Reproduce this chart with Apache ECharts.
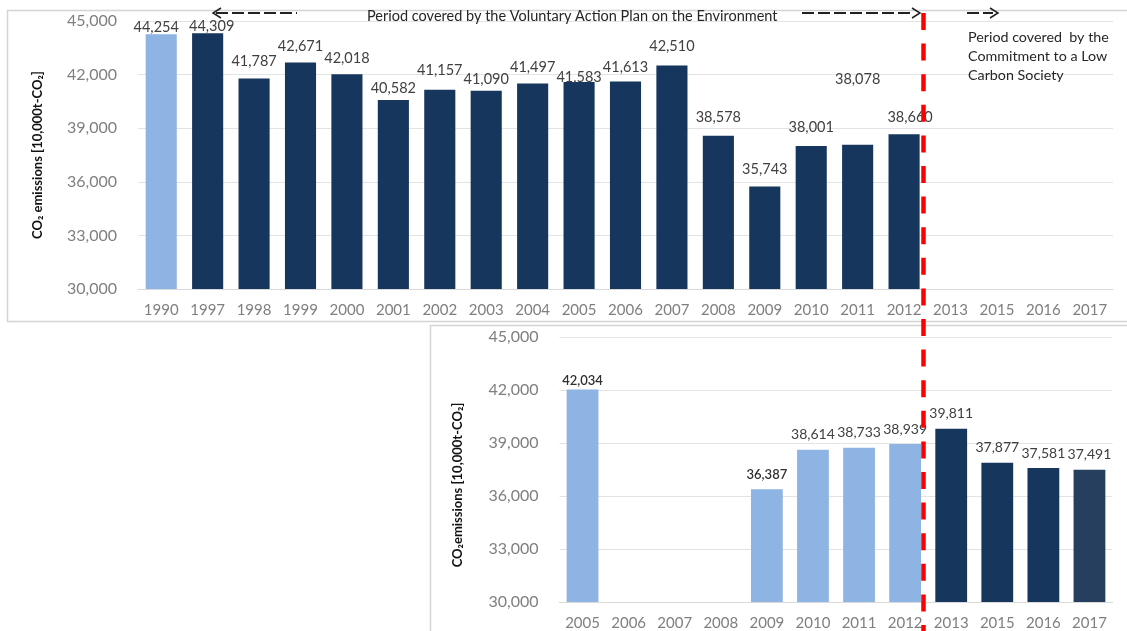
<!DOCTYPE html>
<html>
<head>
<meta charset="utf-8">
<script src="https://cdn.jsdelivr.net/npm/echarts@6/dist/echarts.min.js"></script>
<style>
  html, body { margin: 0; padding: 0; background: #ffffff; }
  #chart { width: 1127px; height: 631px; }
</style>
</head>
<body>
<div id="chart"></div>
<script>
// CO2 emissions, 10,000 t-CO2
const upperYears = ['1990', '1997', '1998', '1999', '2000', '2001', '2002', '2003', '2004', '2005', '2006',
                    '2007', '2008', '2009', '2010', '2011', '2012', '2013', '2015', '2016', '2017'];
const upperValues = [44254, 44309, 41787, 42671, 42018, 40582, 41157, 41090, 41497, 41583, 41613,
                     42510, 38578, 35743, 38001, 38078, 38660, null, null, null, null];

const lowerYears = ['2005', '2006', '2007', '2008', '2009', '2010', '2011', '2012', '2013', '2015', '2016', '2017'];
const lowerValues = [42034, null, null, null, 36387, 38614, 38733, 38939, 39811, 37877, 37581, 37491];

const emissionTicks = [30000, 33000, 36000, 39000, 42000, 45000];

const FONT = 'Lato, "Liberation Sans", sans-serif';
const LIGHT = '#8eb4e3';
const NAVY = '#17365d';
const NAVY_SOFT = '#263f5f';
const LABEL_COLOR = '#404040';
const AXIS_COLOR = '#7f7f7f';
const GRID_COLOR = '#e3e3e3';

// gap between each value label and the top of its bar
const upperLabelGap = { '1990': 0, '1997': 0, '1998': 10, '1999': 9, '2000': 8, '2001': 4, '2002': 12,
  '2003': 4, '2004': 9, '2005': -3, '2006': 7, '2007': 12, '2008': 11, '2009': 10, '2010': 11,
  '2011': 58, '2012': 9 };
// sideways nudges so neighbouring labels do not collide
const upperLabelShift = { '1990': -5, '1997': 4, '2012': 6 };
const lowerLabelGap = { '2005': 2, '2009': 8 };
const lowerEmphasis = ['2005', '2009'];

const fmt = v => Number(v).toLocaleString('en-US');

function upperColor(year) { return year === '1990' ? LIGHT : NAVY; }
function lowerColor(year) {
  if (Number(year) <= 2012) return LIGHT;
  return year === '2017' ? NAVY_SOFT : NAVY;
}

const upperData = upperValues.map((v, i) => v == null ? null : {
  value: v,
  itemStyle: { color: upperColor(upperYears[i]) },
  label: {
    distance: upperLabelGap[upperYears[i]] ?? 9,
    offset: [upperLabelShift[upperYears[i]] ?? 0, 0]
  }
});
const lowerData = lowerValues.map((v, i) => {
  if (v == null) return null;
  const y = lowerYears[i];
  const strong = lowerEmphasis.includes(y);
  return {
    value: v,
    itemStyle: { color: lowerColor(y) },
    label: {
      distance: lowerLabelGap[y] ?? 8,
      fontSize: strong ? 13 : 14,
      fontWeight: strong ? 600 : 'normal',
      color: strong ? '#303030' : LABEL_COLOR
    }
  };
});

const yMin = emissionTicks[0];
const yMax = emissionTicks[emissionTicks.length - 1];
const yStep = emissionTicks[1] - emissionTicks[0];

function valueAxis(gridIndex) {
  return {
    type: 'value', gridIndex, min: yMin, max: yMax, interval: yStep,
    axisLine: { show: false }, axisTick: { show: false },
    axisLabel: { color: AXIS_COLOR, fontSize: 16, fontFamily: FONT, margin: 21, formatter: fmt },
    splitLine: { lineStyle: { color: GRID_COLOR, width: 1 } }
  };
}
function categoryAxis(gridIndex, years) {
  return {
    type: 'category', gridIndex, data: years,
    axisLine: { lineStyle: { color: '#d9d9d9' } }, axisTick: { show: false },
    axisLabel: { color: AXIS_COLOR, fontSize: 15, fontFamily: FONT, margin: 14, interval: 0 }
  };
}

const barLabel = {
  show: true, position: 'top', color: LABEL_COLOR, fontSize: 14.5, fontFamily: FONT,
  formatter: p => fmt(p.value)
};

// dashed arrow helpers
function dashedShaft(x1, x2, y) {
  return { type: 'line', shape: { x1, y1: y, x2, y2: y },
    style: { stroke: '#222', lineWidth: 2.2, lineDash: [12, 4] }, z: 20 };
}
function arrowHead(tipX, y, dir) {
  const back = tipX - dir * 8;
  return { type: 'polyline', shape: { points: [[back, y - 5], [tipX, y], [back, y + 5]] },
    style: { stroke: '#222', lineWidth: 1.5, fill: null }, z: 20 };
}
function yTitle(x, y, text) {
  return { type: 'text', x, y, rotation: Math.PI / 2, z: 20,
    style: { text, fill: '#111', font: `bold 13px ${FONT}`, align: 'center', verticalAlign: 'middle' } };
}

const chart = echarts.init(document.getElementById('chart'), null, { renderer: 'canvas' });
chart.setOption({
  animation: false,
  backgroundColor: '#ffffff',
  grid: [
    { left: 138, top: 21, width: 975, height: 268 },
    { left: 559.5, top: 337, width: 553, height: 267 }
  ],
  xAxis: [categoryAxis(0, upperYears), categoryAxis(1, lowerYears)],
  yAxis: [valueAxis(0), valueAxis(1)],
  series: [
    { type: 'bar', xAxisIndex: 0, yAxisIndex: 0, barWidth: '67%', data: upperData, label: barLabel },
    { type: 'bar', xAxisIndex: 1, yAxisIndex: 1, barWidth: '69%', data: lowerData,
      label: Object.assign({}, barLabel, { fontSize: 14 }) }
  ],
  graphic: [
    // panel frames
    { type: 'rect', z: 0, shape: { x: 7.5, y: 10.5, width: 1140, height: 311 },
      style: { fill: null, stroke: '#d4d4d4', lineWidth: 1.5 } },
    { type: 'rect', z: 0, shape: { x: 430.5, y: 325.5, width: 720, height: 400 },
      style: { fill: null, stroke: '#d4d4d4', lineWidth: 1.5 } },

    yTitle(38, 155, 'CO\u2082 emissions [10,000t-CO\u2082]'),
    yTitle(458, 485, 'CO\u2082emissions [10,000t-CO\u2082]'),

    // period annotations
    { type: 'text', x: 367, y: 16, z: 20,
      style: { text: 'Period covered by the Voluntary Action Plan on the Environment', fill: '#262626',
        font: `14.5px ${FONT}`, align: 'left', verticalAlign: 'middle' } },
    { type: 'text', x: 968, y: 56, z: 20,
      style: { text: 'Period covered  by the\nCommitment to a Low\nCarbon Society', fill: '#262626',
        font: `14.3px ${FONT}`, lineHeight: 19, align: 'left', verticalAlign: 'middle' } },

    arrowHead(213, 13, -1), dashedShaft(216, 297, 13),
    dashedShaft(802, 914, 13), arrowHead(920, 13, 1),
    dashedShaft(967, 993, 13), arrowHead(998, 13, 1),

    // boundary between the two periods
    { type: 'line', z: 30, shape: { x1: 923.5, y1: 13, x2: 923.5, y2: 640 },
      style: { stroke: '#ff0000', lineWidth: 4.5, lineDash: [17, 13.6] } }
  ]
});
</script>
</body>
</html>
